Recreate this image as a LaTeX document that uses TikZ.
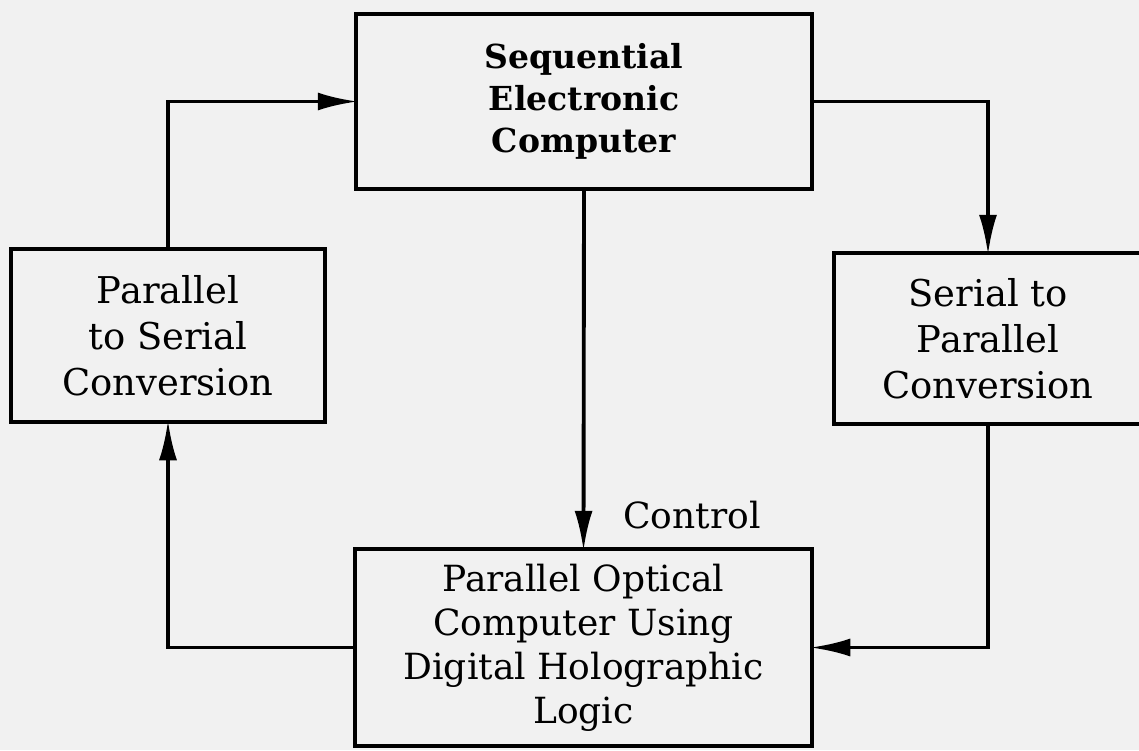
\documentclass[tikz,border=0pt]{standalone}
\usepackage{fontspec}
\setmainfont{DejaVu Serif}
\usetikzlibrary{arrows.meta,positioning}
\definecolor{paper}{RGB}{241,241,241}
\tikzset{
  block/.style = {draw, line width = 2.3pt, align = center, inner sep = 0pt, outer sep = 0pt},
  flow/.style = {draw, -{Latex[length = 0.8cm, width = 0.36cm]}, line width = 2.2pt, shorten >= -1pt}
}
\begin{document}
\begin{tikzpicture} [line join = miter]
        \fill [paper] (0,0) rectangle (22.78,-15);
        \useasboundingbox (0,0) rectangle (22.78,-15);

        \node [block, minimum width = 9.12cm, minimum height = 3.5cm,
               font = \fontsize{18.8}{24}\selectfont\bfseries] (comp) at (11.68,-2.03)
               {Sequential\\Electronic\\Computer};
        \node [block, minimum width = 6.28cm, minimum height = 3.46cm,
               font = \fontsize{21}{26.1}\selectfont] (p2s) at (3.36,-6.71)
               {Parallel\\to Serial\\Conversion};
        \node [block, minimum width = 6.16cm, minimum height = 3.42cm,
               font = \fontsize{21}{26.1}\selectfont] (s2p) at (19.76,-6.77)
               {Serial to\\Parallel\\Conversion};
        \node [block, minimum width = 9.14cm, minimum height = 3.94cm,
               font = \fontsize{20.5}{25}\selectfont] (logic) at (11.67,-12.95)
               {Parallel Optical\\Computer Using\\Digital Holographic\\Logic};

        \node [anchor = base west, font = \fontsize{20.5}{25}\selectfont] (ctrl) at (12.34,-10.56) {Control};

        \path [flow] (p2s.north) |- (comp.west);
        \path [flow] (comp.east) -| (s2p.north);
        \path [flow] (s2p.south) |- (logic.east);
        \path [flow] (logic.west) -| (p2s.south);
        \path [flow] (comp.south) -- (logic.north);

    \end{tikzpicture}
\end{document}
